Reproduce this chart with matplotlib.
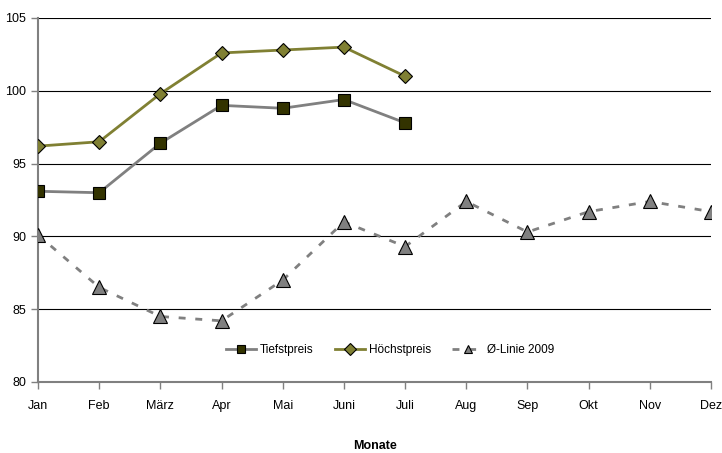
import matplotlib
matplotlib.use("Agg")
import matplotlib.pyplot as plt

months = ["Jan", "Feb", "März", "Apr", "Mai", "Juni", "Juli", "Aug", "Sep", "Okt", "Nov", "Dez"]
tief = [93.1, 93.0, 96.4, 99.0, 98.8, 99.4, 97.8]
hoechst = [96.2, 96.5, 99.8, 102.6, 102.8, 103.0, 101.0]
linie2009 = [90.1, 86.5, 84.5, 84.2, 87.0, 91.0, 89.3, 92.4, 90.3, 91.7, 92.4, 91.7]
yticks = [80, 85, 90, 95, 100, 105]

plt.rcParams['font.family'] = ['Liberation Sans', 'DejaVu Sans']

fig = plt.figure(figsize=(7.22, 4.53), dpi=100)
ax = fig.add_axes([38/722, 1-382/453, 673/722, 364/453])

x_all = list(range(len(months)))
ax.plot(x_all[:len(tief)], tief, color="#808080", lw=2, marker="s", ms=9,
        mfc="#333300", mec="black", mew=0.8, label="Tiefstpreis", zorder=4)
ax.plot(x_all[:len(hoechst)], hoechst, color="#808033", lw=2, marker="D", ms=7,
        mfc="#808033", mec="black", mew=0.8, label="Höchstpreis", zorder=4)
ax.plot(x_all, linie2009, color="#808080", lw=2, ls=(0, (2.5, 3.5)), marker="^", ms=9.5,
        mfc="#808080", mec="black", mew=0.8, label="Ø-Linie 2009", zorder=4)

ax.set_xlim(0, 11)
ax.set_ylim(80, 105)
ax.set_yticks(yticks)
ax.set_xticks(x_all)
ax.set_xticklabels(months)
for y in yticks[1:]:
    ax.axhline(y, color="black", lw=0.8, zorder=1)

for s in ["top", "right"]:
    ax.spines[s].set_visible(False)
for s in ["left", "bottom"]:
    ax.spines[s].set_color("#808080")
    ax.spines[s].set_linewidth(1.5)
ax.tick_params(axis="both", colors="#808080", labelcolor="black", labelsize=9, length=5, width=1)
ax.tick_params(axis="x", pad=8)

ax.set_xlabel("Monate", fontsize=9, fontweight="bold", labelpad=20)

leg = ax.legend(loc="center", bbox_to_anchor=(5.75, 82.2), bbox_transform=ax.transData,
                ncol=3, frameon=False, fontsize=8.5, handlelength=2.6, columnspacing=1.8,
                handletextpad=0.3)
for h in leg.legend_handles:
    h.set_markersize(6)

fig.savefig("out.png", dpi=100)
